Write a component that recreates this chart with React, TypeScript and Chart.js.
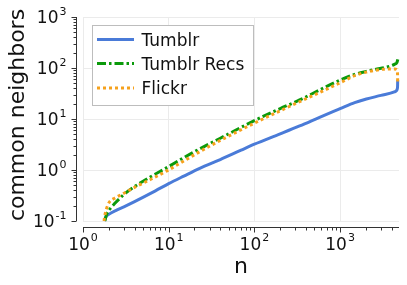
import React, { useEffect, useRef } from "react";
import { Chart, registerables } from "chart.js";

Chart.register(...registerables);

// ---------- data ----------
const seriesNames = ["Tumblr", "Tumblr Recs", "Flickr"];

const tumblrN = [1.78, 1.85, 2.0, 2.5, 3, 4, 5, 7, 10, 15, 23, 40, 70, 100, 200, 337, 576, 826, 1000, 1480, 2028, 3000, 4300, 4550, 4650, 4690, 4700];
const tumblrY = [0.1, 0.12, 0.135, 0.165, 0.19, 0.24, 0.29, 0.39, 0.54, 0.76, 1.08, 1.6, 2.45, 3.2, 5.1, 7.3, 10.8, 14, 16, 21, 24.7, 29, 34, 36, 39, 45, 58];

const recsN = [1.8, 1.87, 2.05, 2.34, 3, 3.83, 6, 9.4, 15, 23, 40, 100, 200, 337, 576, 826, 1000, 1480, 2028, 2500, 3980, 4300, 4600, 4750];
const recsY = [0.1, 0.13, 0.17, 0.22, 0.33, 0.45, 0.72, 1.1, 1.75, 2.6, 4.2, 9.3, 16, 23.6, 37, 50, 58, 75, 86, 93, 111, 118, 128, 155];

const flickrN = [1.76, 1.8, 1.96, 2.05, 2.34, 3, 3.83, 6, 9.4, 15, 23, 40, 100, 200, 337, 576, 826, 1000, 1480, 2028, 3300, 4300, 4600, 4660, 4690, 4700];
const flickrY = [0.1, 0.13, 0.21, 0.24, 0.28, 0.35, 0.44, 0.64, 0.95, 1.5, 2.29, 3.8, 8.3, 14.5, 21.8, 33, 44, 51, 71, 83, 95, 96, 93, 85, 70, 50];

const xDecades = [0, 1, 2, 3];
const yDecades = [-1, 0, 1, 2, 3];
const xMin = 1;
const xMax = 4870;
const yMin = 0.1;
const yMax = 1000;
const xTitle = "n";
const yTitle = "common neighbors";

// ---------- styles ----------
const FONT = '"DejaVu Sans", sans-serif';
const COLORS = ["#4a7bd8", "#0b9a0b", "#f6a11c"];
const DASHES: number[][] = [[], [9, 3, 2.5, 3], [3, 3]];

function pts(ns: number[], ys: number[]) {
  return ns.map((n, i) => ({ x: n, y: ys[i] }));
}

function drawPow(ctx: CanvasRenderingContext2D, exp: number, x: number, y: number, align: "right" | "center") {
  const base = "10";
  const e = exp < 0 ? "-" + -exp : String(exp);
  ctx.font = `17px ${FONT}`;
  const wb = ctx.measureText(base).width;
  ctx.font = `11px ${FONT}`;
  const we = ctx.measureText(e).width;
  const total = wb + 1 + we;
  const x0 = align === "right" ? x - total : x - total / 2;
  ctx.textAlign = "left";
  ctx.textBaseline = "alphabetic";
  ctx.fillStyle = "#111";
  ctx.font = `17px ${FONT}`;
  ctx.fillText(base, x0, y + 6.2);
  ctx.font = `11px ${FONT}`;
  ctx.fillText(e, x0 + wb + 1, y - 2.5);
}

const decorPlugin = {
  id: "decor",
  afterDraw(chart: any) {
    const ctx: CanvasRenderingContext2D = chart.ctx;
    const { left, right, top, bottom } = chart.chartArea;
    const xs = chart.scales.x;
    const ys = chart.scales.y;
    const spineX = left - 6.5;
    const spineY = bottom + 6.5;
    ctx.save();
    ctx.strokeStyle = "#333";
    ctx.lineWidth = 1;
    ctx.setLineDash([]);
    // y spine
    ctx.beginPath();
    ctx.moveTo(spineX, ys.getPixelForValue(yMax));
    ctx.lineTo(spineX, ys.getPixelForValue(yMin));
    ctx.stroke();
    // x spine
    ctx.beginPath();
    ctx.moveTo(xs.getPixelForValue(xMin), spineY);
    ctx.lineTo(xs.getPixelForValue(xMax), spineY);
    ctx.stroke();
    // y ticks
    for (let d = yDecades[0]; d <= yDecades[yDecades.length - 1]; d++) {
      for (let m = 1; m <= 9; m++) {
        const v = m * Math.pow(10, d);
        if (v > yMax * 1.0001) break;
        const py = Math.round(ys.getPixelForValue(v)) + 0.5;
        const len = m === 1 ? 5 : 3;
        ctx.beginPath();
        ctx.moveTo(spineX, py);
        ctx.lineTo(spineX - len, py);
        ctx.stroke();
      }
    }
    // x ticks
    for (let d = xDecades[0]; d <= xDecades[xDecades.length - 1]; d++) {
      for (let m = 1; m <= 9; m++) {
        const v = m * Math.pow(10, d);
        if (v > xMax) break;
        const px = Math.round(xs.getPixelForValue(v)) + 0.5;
        const len = m === 1 ? 5 : 3;
        ctx.beginPath();
        ctx.moveTo(px, spineY);
        ctx.lineTo(px, spineY + len);
        ctx.stroke();
      }
    }
    // tick labels
    yDecades.forEach((d) => drawPow(ctx, d, left - 16.5, ys.getPixelForValue(Math.pow(10, d)), "right"));
    xDecades.forEach((d) => drawPow(ctx, d, xs.getPixelForValue(Math.pow(10, d)), bottom + 22.5, "center"));
    // axis titles
    ctx.fillStyle = "#111";
    ctx.font = `22px ${FONT}`;
    ctx.textAlign = "center";
    ctx.textBaseline = "alphabetic";
    ctx.fillText(xTitle, (left + right) / 2, 272.5);
    ctx.save();
    ctx.translate(24, 115);
    ctx.rotate(-Math.PI / 2);
    ctx.fillText(yTitle, 0, 0);
    ctx.restore();
    // legend
    const lx = 92.5, ly = 25.5, lw = 161, lh = 80;
    ctx.fillStyle = "#fff";
    ctx.fillRect(lx, ly, lw, lh);
    ctx.strokeStyle = "#bdbdbd";
    ctx.lineWidth = 1;
    ctx.strokeRect(lx, ly, lw, lh);
    const rows = [39.5, 63.5, 88];
    seriesNames.forEach((name, i) => {
      ctx.strokeStyle = COLORS[i];
      ctx.lineWidth = 3;
      ctx.lineCap = "butt";
      ctx.setLineDash(DASHES[i]);
      ctx.beginPath();
      ctx.moveTo(97, rows[i]);
      ctx.lineTo(134, rows[i]);
      ctx.stroke();
      ctx.setLineDash([]);
      ctx.fillStyle = "#111";
      ctx.font = `17px ${FONT}`;
      ctx.textAlign = "left";
      ctx.textBaseline = "alphabetic";
      ctx.fillText(name, 141.5, rows[i] + 6.2);
    });
    ctx.restore();
  },
};

export default function App() {
  const ref = useRef<HTMLCanvasElement | null>(null);
  useEffect(() => {
    if (!ref.current) return;
    const series = [pts(tumblrN, tumblrY), pts(recsN, recsY), pts(flickrN, flickrY)];
    const gridColor = (c: any) => {
      const v = c.tick ? c.tick.value : NaN;
      const l = Math.log10(v);
      return Math.abs(l - Math.round(l)) < 1e-6 ? "#ebebeb" : "rgba(0,0,0,0)";
    };
    const chart = new Chart(ref.current, {
      type: "scatter",
      data: {
        datasets: series.map((data, i) => ({
          label: seriesNames[i],
          data,
          showLine: true,
          borderColor: COLORS[i],
          backgroundColor: COLORS[i],
          borderWidth: 3,
          borderDash: DASHES[i],
          borderCapStyle: "butt",
          pointRadius: 0,
          cubicInterpolationMode: "monotone",
          clip: 6,
          order: 3 - i,
        })),
      },
      options: {
        responsive: false,
        animation: false,
        devicePixelRatio: 1,
        layout: { padding: { left: 83, top: 17, right: 8, bottom: 64 } },
        plugins: { legend: { display: false }, tooltip: { enabled: false }, title: { display: false } },
        scales: {
          x: {
            type: "logarithmic",
            min: xMin,
            max: xMax,
            ticks: { display: false, autoSkip: false },
            grid: { color: gridColor, drawTicks: false, lineWidth: 1 },
            border: { display: false },
            title: { display: false },
          },
          y: {
            type: "logarithmic",
            min: yMin,
            max: yMax,
            ticks: { display: false, autoSkip: false },
            grid: { color: gridColor, drawTicks: false, lineWidth: 1 },
            border: { display: false },
            title: { display: false },
          },
        },
      } as any,
      plugins: [decorPlugin],
    });
    return () => chart.destroy();
  }, []);
  return (
    <div style={{ position: "absolute", left: 0, top: 0, width: 407, height: 285, background: "#fff" }}>
      <canvas ref={ref} width={407} height={285} style={{ width: 407, height: 285, display: "block" }} />
    </div>
  );
}
